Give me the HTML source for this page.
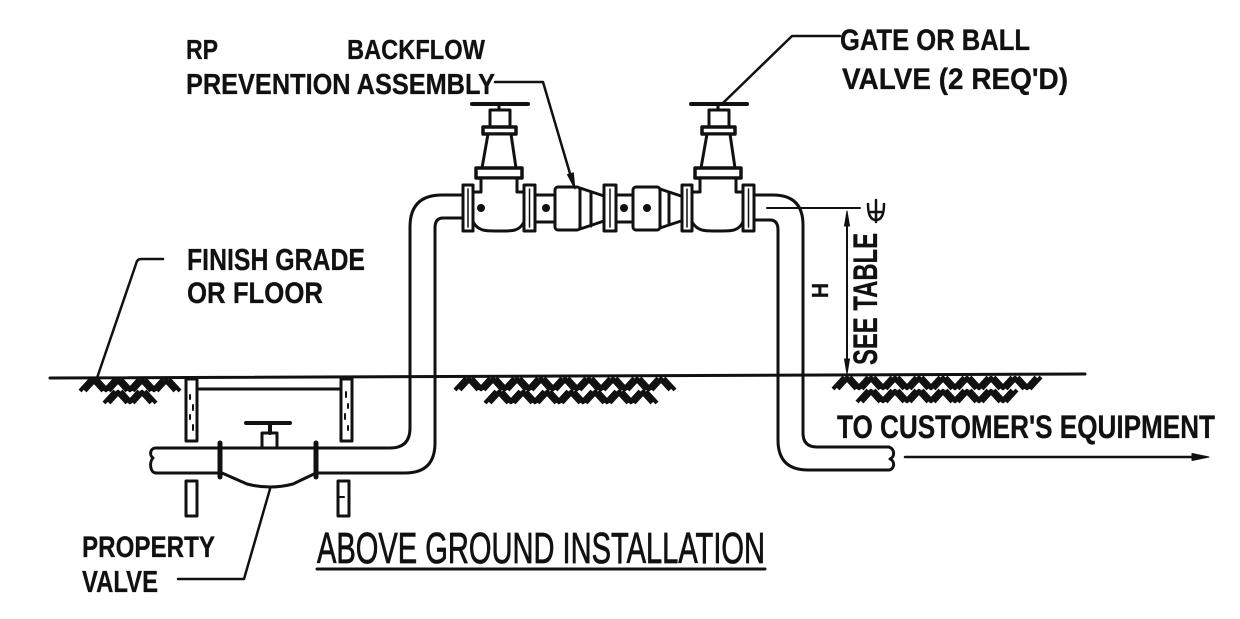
<!DOCTYPE html>
<html><head><meta charset="utf-8"><style>
html,body{margin:0;padding:0;background:#fff;}
svg{display:block}
text{font-family:"Liberation Sans","DejaVu Sans",sans-serif;font-weight:bold;fill:#111;stroke:#111;stroke-width:0.3}
</style></head><body>
<svg width="1240" height="619" viewBox="0 0 1240 619" xmlns="http://www.w3.org/2000/svg">
<rect width="1240" height="619" fill="#fff"/>
<g fill="none" stroke="#111" stroke-width="3" stroke-linecap="round" stroke-linejoin="round">

<!-- ground line -->
<path d="M50 378 L1085 374"/>

<!-- hatching -->
<g stroke-width="4" stroke-linecap="butt">
<path d="M455 390l11-12m-6 12l11-12m-4 0l11 12m-6-12l11 12 M479 390l11-12m-6 12l11-12m-4 0l11 12m-6-12l11 12 M503 390l11-12m-6 12l11-12m-4 0l11 12m-6-12l11 12 M527 390l11-12m-6 12l11-12m-4 0l11 12m-6-12l11 12 M551 390l11-12m-6 12l11-12m-4 0l11 12m-6-12l11 12 M575 390l11-12m-6 12l11-12m-4 0l11 12m-6-12l11 12 M599 390l11-12m-6 12l11-12m-4 0l11 12m-6-12l11 12 M623 390l11-12m-6 12l11-12m-4 0l11 12m-6-12l11 12 M647 390l11-12m-6 12l11-12m-4 0l11 12m-6-12l11 12"/>
<path d="M485 403l11-12m-6 12l11-12m-4 0l11 12m-6-12l11 12 M509 403l11-12m-6 12l11-12m-4 0l11 12m-6-12l11 12 M533 403l11-12m-6 12l11-12m-4 0l11 12m-6-12l11 12 M557 403l11-12m-6 12l11-12m-4 0l11 12m-6-12l11 12 M581 403l11-12m-6 12l11-12m-4 0l11 12m-6-12l11 12 M605 403l11-12m-6 12l11-12m-4 0l11 12m-6-12l11 12 M629 403l11-12m-6 12l11-12m-4 0l11 12m-6-12l11 12"/>
<path d="M80 391l11-12m-6 12l11-12m-4 0l11 12m-6-12l11 12 M104 391l11-12m-6 12l11-12m-4 0l11 12m-6-12l11 12 M128 391l11-12m-6 12l11-12m-4 0l11 12m-6-12l11 12 M152 391l11-12m-6 12l11-12m-4 0l11 12m-6-12l11 12"/>
<path d="M104 403l11-12m-6 12l11-12m-4 0l11 12m-6-12l11 12 M128 403l11-12m-6 12l11-12m-4 0l11 12m-6-12l11 12"/>
<path d="M833 389l11-12m-6 12l11-12m-4 0l11 12m-6-12l11 12 M857 389l11-12m-6 12l11-12m-4 0l11 12m-6-12l11 12 M881 389l11-12m-6 12l11-12m-4 0l11 12m-6-12l11 12 M905 389l11-12m-6 12l11-12m-4 0l11 12m-6-12l11 12 M929 389l11-12m-6 12l11-12m-4 0l11 12m-6-12l11 12 M953 389l11-12m-6 12l11-12m-4 0l11 12m-6-12l11 12 M977 389l11-12m-6 12l11-12m-4 0l11 12m-6-12l11 12 M1001 389l11-12m-6 12l11-12m-4 0l11 12m-6-12l11 12 M1025 389l11-12m-6 12l11-12"/>
<path d="M857 402l11-12m-6 12l11-12m-4 0l11 12m-6-12l11 12 M881 402l11-12m-6 12l11-12m-4 0l11 12m-6-12l11 12 M905 402l11-12m-6 12l11-12m-4 0l11 12m-6-12l11 12 M929 402l11-12m-6 12l11-12m-4 0l11 12m-6-12l11 12 M953 402l11-12m-6 12l11-12m-4 0l11 12m-6-12l11 12 M977 402l11-12m-6 12l11-12m-4 0l11 12m-6-12l11 12 M1001 402l11-12m-6 12l11-12"/>
</g>

<!-- meter box -->
<rect x="186" y="379" width="11" height="62" fill="#fff"/>
<rect x="341" y="379" width="11" height="62" fill="#fff"/>
<path d="M197 389 H341"/>
<path d="M190 395 v4 M193 405 v5 M190 415 v4 M193 425 v5 M346 392 v5 M348 404 v4 M345 414 v5 M348 426 v4" stroke-width="2"/>
<rect x="186" y="481" width="11" height="35" fill="#fff"/>
<rect x="338" y="481" width="11" height="35" fill="#fff"/>
<path d="M338 497 H344" stroke-width="2"/>

<!-- left riser & underground pipe -->
<path d="M463 195 H442 Q410 195 410 227 V428 Q410 448 390 448 H318"/>
<path d="M463 218 H443 Q435 218 435 228 V443 Q435 473 405 473 H318"/>

<!-- property valve -->
<path d="M220 448 H156 C150 448 149 455 153 458 C149 462 150 473 156 473 H220"/>
<path d="M222 448 H316"/>
<path d="M222 473 L247 484 Q270 490 293 484 L316 473"/>
<line x1="220" y1="443" x2="220" y2="477" stroke-width="5"/>
<line x1="316" y1="443" x2="316" y2="477" stroke-width="5"/>
<rect x="262" y="433" width="15" height="15" fill="#fff"/>
<line x1="270" y1="423" x2="270" y2="433" stroke-width="4"/>
<line x1="246" y1="423" x2="290" y2="423" stroke-width="4"/>

<!-- right riser -->
<path d="M754 195 H773 Q803 195 803 225 V433 Q803 447 817 447 H889"/>
<path d="M754 220 H770 Q778 220 778 230 V440 Q778 470 808 470 H889"/>
<path d="M889 447 C895 449 895 457 890 459 C895 461 895 469 889 470"/>

<!-- left gate valve -->
<g>
<line x1="472" y1="104" x2="528" y2="104" stroke-width="4"/>
<line x1="499" y1="104" x2="499" y2="110"/>
<rect x="490" y="110" width="20" height="17" fill="#fff"/>
<rect x="483" y="127" width="33" height="7" fill="#fff" stroke-width="3.5"/>
<polygon points="488,134 511,134 516,168 482,168" fill="#fff"/>
<rect x="476" y="168" width="46" height="10" fill="#fff" stroke-width="3.5"/>
<path d="M473 192 H481 V178 H517 V192 H524 V222 C519 232 511 231 499 231 C487 231 479 232 473 222 Z" fill="#fff"/>
<rect x="463" y="185" width="10" height="46" fill="#fff"/>
<line x1="468" y1="189" x2="468" y2="227" stroke-width="1.5"/>
<rect x="524" y="185" width="11" height="46" fill="#fff"/>
<line x1="529.5" y1="189" x2="529.5" y2="227" stroke-width="1.5"/>
</g>
<g transform="translate(219,0)">
<line x1="472" y1="104" x2="528" y2="104" stroke-width="4"/>
<line x1="499" y1="104" x2="499" y2="110"/>
<rect x="490" y="110" width="20" height="17" fill="#fff"/>
<rect x="483" y="127" width="33" height="7" fill="#fff" stroke-width="3.5"/>
<polygon points="488,134 511,134 516,168 482,168" fill="#fff"/>
<rect x="476" y="168" width="46" height="10" fill="#fff" stroke-width="3.5"/>
<path d="M473 192 H481 V178 H517 V192 H524 V222 C519 232 511 231 499 231 C487 231 479 232 473 222 Z" fill="#fff"/>
<rect x="463" y="185" width="10" height="46" fill="#fff"/>
<line x1="468" y1="189" x2="468" y2="227" stroke-width="1.5"/>
<rect x="524" y="185" width="11" height="46" fill="#fff"/>
<line x1="529.5" y1="189" x2="529.5" y2="227" stroke-width="1.5"/>
</g>
<circle cx="481" cy="208" r="4" fill="#111" stroke="none"/>

<!-- RP section -->
<path d="M535 195 H555 M535 222 H555"/>
<circle cx="546" cy="208" r="4" fill="#111" stroke="none"/>
<rect x="555" y="187" width="25" height="43" rx="3" fill="#fff"/>
<path d="M580 188 L604 196 M580 229 L604 221 M591 192 V226"/>
<rect x="604" y="185" width="12" height="46" fill="#fff"/>
<line x1="610" y1="189" x2="610" y2="227" stroke-width="1.5"/>
<path d="M616 195 H633 M616 222 H633"/>
<circle cx="624" cy="208" r="4" fill="#111" stroke="none"/>
<rect x="633" y="187" width="27" height="43" rx="3" fill="#fff"/>
<circle cx="647" cy="208" r="4" fill="#111" stroke="none"/>
<path d="M660 189 L681 196 M660 228 L681 221 M669 192 V225"/>

<!-- leaders -->
<path d="M163 259 H141 Q137 259 136 264 L97 378" stroke-width="2.5"/>
<path d="M495 82 H543 L571 177" stroke-width="2.5"/>
<polygon points="575,189 573.3,172.8 567.5,174.6" fill="#111" stroke-width="1"/>
<path d="M840 36 H792 L723 103" stroke-width="2.5"/>
<path d="M270 489 L244 579 H178" stroke-width="2.5"/>

<!-- centerline -->
<path d="M767 208 H860" stroke-width="2"/>
<path d="M868 204 Q868 220 876 220 Q884 220 884 204 M876 200 V222 M871 212 H881" stroke-width="2.5"/>

<!-- dimension -->
<path d="M847 222 V362" stroke-width="2"/>
<polygon points="847,211 844.5,226 849.5,226" fill="#111" stroke-width="1"/>
<polygon points="847,374 844.5,359 849.5,359" fill="#111" stroke-width="1"/>

<!-- customer arrow -->
<path d="M905 457 H1195" stroke-width="2.5"/>
<polygon points="1209,457 1192,453.5 1192,460.5" fill="#111" stroke-width="1"/>

<!-- title underline -->
<line x1="317" y1="569" x2="765" y2="569" stroke-width="3"/>
</g>

<!-- texts -->
<text x="186" y="59" font-size="28" textLength="32" lengthAdjust="spacingAndGlyphs">RP</text>
<text x="347" y="59" font-size="28" textLength="138" lengthAdjust="spacingAndGlyphs">BACKFLOW</text>
<text x="186" y="94" font-size="29" textLength="309" lengthAdjust="spacingAndGlyphs">PREVENTION ASSEMBLY</text>
<text x="840" y="50" font-size="30" textLength="190" lengthAdjust="spacingAndGlyphs">GATE OR BALL</text>
<text x="842" y="89" font-size="30" textLength="226" lengthAdjust="spacingAndGlyphs">VALVE (2 REQ'D)</text>
<text x="187" y="270" font-size="31" textLength="178" lengthAdjust="spacingAndGlyphs">FINISH GRADE</text>
<text x="187" y="303" font-size="30" textLength="136" lengthAdjust="spacingAndGlyphs">OR FLOOR</text>
<text x="82" y="557" font-size="30" textLength="133" lengthAdjust="spacingAndGlyphs">PROPERTY</text>
<text x="82" y="592" font-size="31" textLength="76" lengthAdjust="spacingAndGlyphs">VALVE</text>
<text x="317" y="563" font-size="44" textLength="448" lengthAdjust="spacingAndGlyphs" style="font-weight:normal;stroke-width:0.8">ABOVE GROUND INSTALLATION</text>
<text x="837" y="438" font-size="32" textLength="378" lengthAdjust="spacingAndGlyphs">TO CUSTOMER'S EQUIPMENT</text>
<text transform="translate(877,365) rotate(-90)" font-size="34" textLength="132" lengthAdjust="spacingAndGlyphs">SEE TABLE</text>
<text transform="translate(828,298) rotate(-90)" font-size="23" textLength="15" lengthAdjust="spacingAndGlyphs">H</text>
</svg>
</body></html>
